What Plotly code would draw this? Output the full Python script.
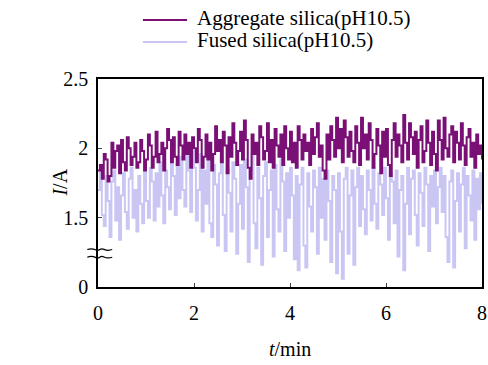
import plotly.graph_objects as go

dt = 0.04
agg = [
 1.84, 1.88, 1.78, 1.96, 1.92, 1.76, 1.80, 2.04, 1.86, 1.98, 2.02, 1.82, 2.06, 1.90, 1.84, 2.08, 2.00, 1.88, 1.94, 2.04, 1.86, 1.90, 2.06, 1.98, 1.84,
 1.92, 2.10, 2.02, 1.86, 1.94, 2.12, 1.90, 1.96, 2.04, 1.84, 2.00, 2.14, 2.06, 1.90, 2.08, 1.94, 1.88, 2.12, 2.02, 1.92, 2.10, 1.96, 2.04, 1.86, 2.08,
 2.00, 1.90, 2.14, 2.06, 1.86, 1.94, 2.10, 1.92, 2.04, 1.84, 1.96, 2.16, 1.98, 2.06, 1.90, 2.12, 2.02, 1.82, 2.08, 1.94, 2.18, 2.04, 1.88, 1.98, 2.12,
 1.92, 2.20, 2.06, 1.86, 1.78, 2.10, 1.96, 2.04, 1.88, 2.16, 2.08, 1.92, 1.98, 2.18, 1.90, 2.06, 1.86, 2.14, 2.02, 1.94, 2.10, 1.88, 2.16, 2.00, 1.92,
 2.12, 1.90, 2.04, 1.86, 2.16, 2.06, 1.92, 2.10, 1.98, 2.04, 1.88, 2.14, 1.96, 2.08, 2.18, 1.94, 2.02, 1.84, 1.78, 2.10, 1.92, 2.16, 2.06, 1.94, 2.22,
 2.00, 2.14, 1.90, 2.20, 2.08, 1.94, 2.12, 1.98, 1.90, 2.16, 2.04, 1.88, 2.22, 2.00, 2.10, 1.92, 2.18, 2.06, 1.86, 1.96, 2.14, 2.02, 1.82, 2.12, 1.94,
 2.14, 1.88, 1.80, 2.06, 2.18, 1.94, 2.10, 2.02, 1.90, 2.24, 2.04, 1.92, 2.18, 2.08, 1.96, 2.12, 1.86, 2.06, 2.16, 1.90, 1.98, 2.20, 2.04, 1.88, 2.12,
 1.96, 1.84, 2.20, 2.06, 1.92, 2.22, 2.00, 1.94, 2.10, 2.16, 1.90, 2.12, 2.04, 1.92, 2.18, 2.02, 1.88, 2.08, 2.14, 1.94, 2.04, 1.86, 2.10, 1.96, 2.02,
 1.92,
]
fused = [
 1.70, 1.84, 1.52, 1.44, 1.80, 1.62, 1.36, 1.76, 1.84, 1.48, 1.72, 1.34, 1.66, 1.82, 1.54, 1.42, 1.78, 1.86, 1.50, 1.70, 1.40, 1.80, 1.60, 1.46, 1.84,
 1.62, 1.50, 1.86, 1.76, 1.48, 1.82, 1.58, 1.90, 1.66, 1.46, 1.84, 1.72, 1.56, 1.92, 1.80, 1.52, 1.88, 1.64, 1.94, 1.70, 1.58, 1.96, 1.84, 1.54, 1.98,
 1.86, 1.48, 1.70, 1.96, 1.40, 1.84, 1.60, 1.92, 1.46, 1.36, 1.88, 1.74, 1.30, 1.82, 1.94, 1.52, 1.26, 1.86, 1.68, 1.40, 1.90, 1.78, 1.24, 1.60, 1.88,
 1.42, 1.92, 1.72, 1.18, 1.84, 1.96, 1.46, 1.28, 1.86, 1.64, 1.16, 1.80, 1.90, 1.36, 1.70, 1.84, 1.22, 1.88, 1.56, 1.40, 1.92, 1.76, 1.26, 1.82, 1.50,
 1.86, 1.66, 1.20, 1.80, 1.12, 1.74, 1.86, 1.30, 1.14, 1.82, 1.58, 1.40, 1.84, 1.72, 1.24, 1.86, 1.50, 1.78, 1.34, 1.84, 1.62, 1.18, 1.80, 1.70, 1.10,
 1.82, 1.40, 1.06, 1.78, 1.86, 1.24, 1.66, 1.84, 1.16, 1.72, 1.86, 1.44, 1.80, 1.56, 1.38, 1.84, 1.70, 1.48, 1.86, 1.60, 1.42, 1.82, 1.74, 1.52, 1.86,
 1.64, 1.34, 1.82, 1.76, 1.46, 1.84, 1.22, 1.70, 1.80, 1.12, 1.60, 1.86, 1.38, 1.78, 1.84, 1.52, 1.30, 1.82, 1.68, 1.44, 1.86, 1.74, 1.26, 1.80, 1.58,
 1.84, 1.46, 1.72, 1.86, 1.54, 1.80, 1.36, 1.18, 1.76, 1.84, 1.14, 1.62, 1.82, 1.40, 1.74, 1.86, 1.28, 1.80, 1.66, 1.48, 1.84, 1.34, 1.78, 1.56, 1.82,
 1.60,
]
t = [i * dt for i in range(len(agg))]

series_names = ["Aggregate silica(pH10.5)", "Fused silica(pH10.5)"]
series_colors = ["#7a1076", "#c9c6f4"]

y_tickvals = [1.0, 1.5, 2.0, 2.5]
y_ticktext = ["0", "1.5", "2", "2.5"]
x_tickvals = [0, 2, 4, 6, 8]

FONT = "Liberation Serif"
FS = 20

fig = go.Figure()
fig.add_trace(go.Scatter(x=t, y=fused, mode="lines", line_shape="hv",
                         line=dict(color=series_colors[1], width=2),
                         name=series_names[1], showlegend=False))
fig.add_trace(go.Scatter(x=t, y=agg, mode="lines", line_shape="hv",
                         line=dict(color=series_colors[0], width=2),
                         name=series_names[0], showlegend=False))

# manual legend above the plot (paper coords)
leg_y = [1.284, 1.178]
for name, col, ly in zip(series_names, series_colors, leg_y):
    fig.add_shape(type="line", xref="paper", yref="paper",
                  x0=0.117, x1=0.232, y0=ly, y1=ly,
                  line=dict(color=col, width=2))
    fig.add_annotation(text=name, xref="paper", yref="paper", x=0.252, y=ly + 0.01,
                       xanchor="left", yanchor="middle", showarrow=False,
                       font=dict(family=FONT, size=21, color="black"))

# axis break symbol
for yc in (1.27, 1.215):
    x0, w, h = -0.028, 0.065, 0.022
    path = (f"M {x0},{yc} C {x0 + w/3},{yc + h} {x0 + w/3},{yc - h} {x0 + w/2},{yc} "
            f"C {x0 + 2*w/3},{yc + h} {x0 + 2*w/3},{yc - h} {x0 + w},{yc}")
    fig.add_shape(type="path", path=path, xref="paper", yref="y",
                  line=dict(color="black", width=1.2))

# axis titles
fig.add_annotation(text="<i>t</i>/min", xref="paper", yref="paper", x=0.5, y=-0.30,
                   xanchor="center", yanchor="middle", showarrow=False,
                   font=dict(family=FONT, size=FS, color="black"))
fig.add_annotation(text="<i>I</i>/A", xref="paper", yref="paper", x=-0.1, y=0.5,
                   xanchor="center", yanchor="middle", showarrow=False, textangle=-90,
                   font=dict(family=FONT, size=FS, color="black"))

fig.update_layout(
    width=488, height=365,
    margin=dict(l=98, r=6, t=79, b=78, autoexpand=False),
    paper_bgcolor="white", plot_bgcolor="white",
    font=dict(family=FONT, size=FS, color="black"),
    showlegend=False,
    xaxis=dict(range=[0, 8], tickvals=x_tickvals, ticks="inside", ticklen=4,
               tickfont=dict(family=FONT, size=FS, color="black"),
               ticklabelstandoff=7,
               showline=True, linecolor="black", linewidth=1.5, mirror=True,
               showgrid=False, zeroline=False, automargin=False),
    yaxis=dict(range=[1.0, 2.5], tickvals=y_tickvals, ticktext=y_ticktext,
               ticks="inside", ticklen=4,
               tickfont=dict(family=FONT, size=FS, color="black"),
               ticklabelstandoff=4,
               showline=True, linecolor="black", linewidth=1.5, mirror=True,
               showgrid=False, zeroline=False, automargin=False),
)

fig.write_html("out.html",
               config={"displayModeBar": False},
               post_script="document.body.style.margin='0';document.body.style.overflow='hidden';")
